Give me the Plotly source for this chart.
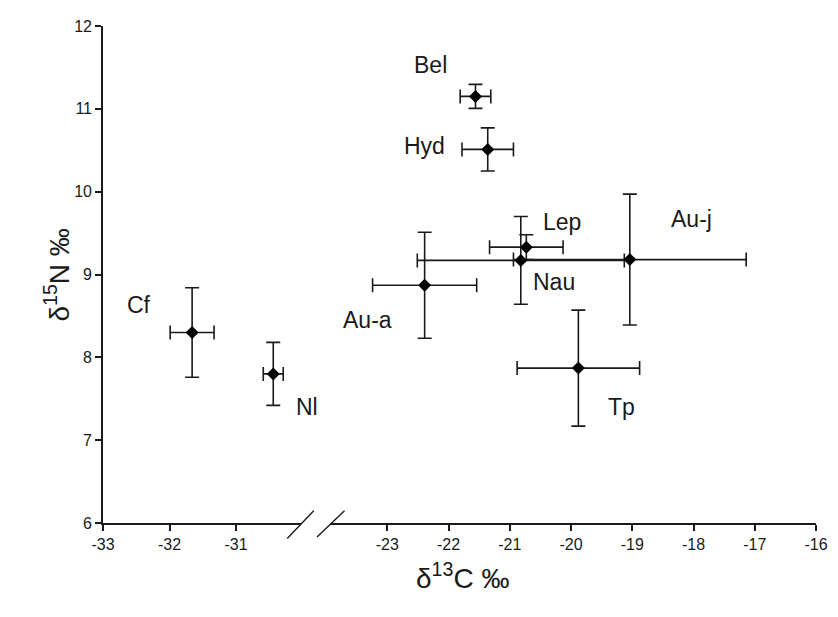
import plotly.graph_objects as go

# ---- data ----
names = ["Bel", "Hyd", "Lep", "Nau", "Au-a", "Au-j", "Tp", "Cf", "Nl"]
d13C = [-21.56, -21.36, -20.73, -20.82, -22.39, -19.04, -19.88, -31.66, -30.44]
d15N = [11.15, 10.51, 9.33, 9.17, 8.87, 9.18, 7.87, 8.30, 7.80]
d13C_sd = [0.25, 0.42, 0.60, 1.69, 0.85, 1.90, 1.00, 0.33, 0.15]
d15N_sd = [0.145, 0.26, 0.15, 0.53, 0.64, 0.79, 0.70, 0.54, 0.38]

left_ticks = [-33, -32, -31]
right_ticks = [-23, -22, -21, -20, -19, -18, -17, -16]
y_ticks = [6, 7, 8, 9, 10, 11, 12]

# label offsets in pixels (dx right, dy down) relative to each point
label_dx = [-45, -63, 36, 33, -57, 62, 43, -53, 34]
label_dy = [-31, -3, -25, 22, 35, -41, 39, -27, 33]

FONT = "Arial, Liberation Sans, sans-serif"
INK = "#1a1a1a"

left_idx = [i for i, v in enumerate(d13C) if v < -25]
right_idx = [i for i, v in enumerate(d13C) if v >= -25]


def trace(idx, xa):
    return go.Scatter(
        x=[d13C[i] for i in idx],
        y=[d15N[i] for i in idx],
        mode="markers",
        marker=dict(symbol="diamond", size=10, color="black"),
        error_x=dict(type="data", array=[d13C_sd[i] for i in idx], color=INK, thickness=1.6, width=7),
        error_y=dict(type="data", array=[d15N_sd[i] for i in idx], color=INK, thickness=1.6, width=7),
        xaxis=xa, yaxis="y", showlegend=False, hoverinfo="skip",
    )


fig = go.Figure([trace(left_idx, "x"), trace(right_idx, "x2")])

# page body has an 8px margin, so work in figure coords = page coords - 8
OFF = 8
W, H = 838 - OFF, 617 - 2 * OFF
L, R, T, B = 102.7 - OFF, 821.0 - OFF, 18.0 - OFF, 523.5 - OFF
pw = R - L
brk_l, brk_r = 301.7 - OFF, 331.7 - OFF
d1 = (brk_l - L) / pw
d2 = (brk_r - L) / pw
left_scale = 67.0
right_scale = 61.7
left_range = [-33, -33 + (brk_l - L) / left_scale]
right_range = [-16 - (R - brk_r) / right_scale, -16]

axis_common = dict(
    showline=True, linecolor=INK, linewidth=1.6, ticks="outside", ticklen=6,
    tickwidth=1.6, tickcolor=INK, showgrid=False, zeroline=False,
    tickfont=dict(family=FONT, size=16, color=INK), mirror=False,
)

fig.update_layout(
    width=W, height=H,
    margin=dict(l=L, r=W - R, t=T, b=H - B, pad=0),
    paper_bgcolor="white", plot_bgcolor="white",
    xaxis=dict(domain=[0, d1], range=left_range, tickvals=left_ticks,
               ticktext=[str(t) for t in left_ticks], anchor="y", **axis_common),
    xaxis2=dict(domain=[d2, 1], range=right_range, tickvals=right_ticks,
                ticktext=[str(t) for t in right_ticks], anchor="y", **axis_common),
    yaxis=dict(range=[6, 12], tickvals=y_ticks, anchor="x", **axis_common),
)

# point labels
for i, n in enumerate(names):
    xa = "x" if i in left_idx else "x2"
    fig.add_annotation(x=d13C[i], y=d15N[i], xref=xa, yref="y", text=n,
                       showarrow=False, xshift=label_dx[i], yshift=-label_dy[i],
                       font=dict(family=FONT, size=23, color=INK))

# axis titles (page coords converted)
fig.add_annotation(x=(465 - OFF - L) / pw, y=(B - (598 - OFF)) / (B - T), xref="paper", yref="paper",
                   text="δ<sup>13</sup>C ‰", showarrow=False,
                   font=dict(family=FONT, size=28, color=INK))
fig.add_annotation(x=(36 - OFF - L) / pw, y=(B - (271 - OFF)) / (B - T), xref="paper", yref="paper",
                   text="δ<sup>15</sup>N ‰", showarrow=False, textangle=-90,
                   font=dict(family=FONT, size=28, color=INK))

# axis-break marks
for (x0, y0, x1, y1) in [(288.3, 539.3, 315.0, 511.0), (318.3, 537.7, 346.0, 511.0)]:
    fig.add_shape(type="line", xref="paper", yref="paper",
                  x0=(x0 - OFF - L) / pw, x1=(x1 - OFF - L) / pw,
                  y0=(B - (y0 - OFF)) / (B - T), y1=(B - (y1 - OFF)) / (B - T),
                  line=dict(color=INK, width=1.4))

fig.write_html("out.html")
